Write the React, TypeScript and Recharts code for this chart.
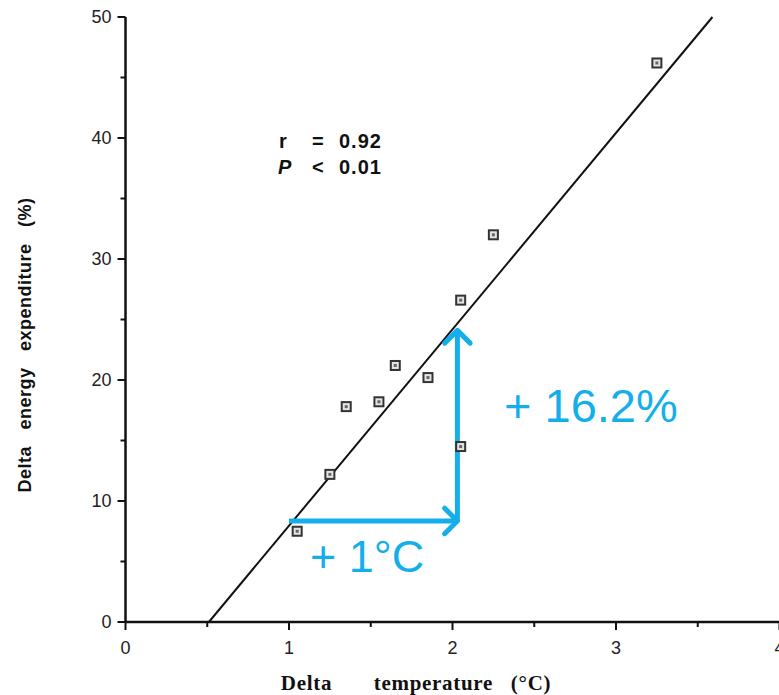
import { ReferenceLine, Scatter, ScatterChart, XAxis, YAxis } from "recharts";

const tempX = [1.05, 1.25, 1.35, 1.55, 1.65, 1.85, 2.05, 2.05, 2.25, 3.25];
const energyY = [7.5, 12.2, 17.8, 18.2, 21.2, 20.2, 26.6, 14.5, 32.0, 46.2];

// regression line end points
const fitX = [0.51, 3.59];
const fitY = [0, 50];

// blue arrows: +1 °C horizontally, +16.2 % vertically
const arrowX = [1.0, 2.03, 2.03];
const arrowY = [8.35, 8.35, 24.1];

const xTicks = [0, 0.5, 1, 1.5, 2, 2.5, 3, 3.5, 4];
const yTicks = [0, 5, 10, 15, 20, 25, 30, 35, 40, 45, 50];

const points = tempX.map((x, i) => ({ x, y: energyY[i] }));

const BLUE = "#14afea";
const SANS = "'Liberation Sans', Arial, sans-serif";

function XTick({ x, y, payload }: any) {
  const v = payload.value;
  const major = Number.isInteger(v);
  return (
    <g>
      <line x1={x} x2={x} y1={y} y2={y + (major ? 8 : 5)} stroke="#111" strokeWidth={2} />
      {major && (
        <text x={x} y={y + 26} textAnchor="middle" dominantBaseline="central" fontSize={18} fill="#222" fontFamily={SANS}>
          {v}
        </text>
      )}
    </g>
  );
}

function YTick({ x, y, payload }: any) {
  const v = payload.value;
  const major = v % 10 === 0;
  return (
    <g>
      <line x1={x - (major ? 8 : 5)} x2={x} y1={y} y2={y} stroke="#111" strokeWidth={2} />
      {major && (
        <text x={x - 14} y={y} textAnchor="end" dominantBaseline="central" fontSize={18} fill="#222" fontFamily={SANS}>
          {v}
        </text>
      )}
    </g>
  );
}

function Box({ cx, cy }: any) {
  return (
    <g>
      <rect x={cx - 4.5} y={cy - 4.5} width={9} height={9} fill="#e4e4e4" stroke="#333" strokeWidth={2} />
      <rect x={cx - 1.5} y={cy - 1.5} width={3} height={3} fill="#666" />
    </g>
  );
}

function Arrow(props: any) {
  const { x1, y1, x2, y2 } = props;
  const ang = Math.atan2(y2 - y1, x2 - x1);
  const len = 18;
  const a1 = ang + Math.PI - Math.PI / 4;
  const a2 = ang + Math.PI + Math.PI / 4;
  return (
    <g>
      <line x1={x1} y1={y1} x2={x2} y2={y2} stroke={BLUE} strokeWidth={5} />
      <polyline
        points={`${x2 + len * Math.cos(a1)},${y2 + len * Math.sin(a1)} ${x2},${y2} ${x2 + len * Math.cos(a2)},${y2 + len * Math.sin(a2)}`}
        fill="none"
        stroke={BLUE}
        strokeWidth={5}
        strokeLinecap="round"
        strokeLinejoin="round"
      />
    </g>
  );
}

const stat = { position: "absolute" as const, fontFamily: SANS, fontWeight: 700, fontSize: 20, color: "#111", lineHeight: "20px", letterSpacing: 1 };

export default function App() {
  return (
    <div style={{ position: "absolute", left: 0, top: 0, width: 779, height: 695, overflow: "hidden", background: "#fff" }}>
      <ScatterChart width={820} height={695} margin={{ top: 17, right: 40.5, left: 0, bottom: 33 }}>
        <XAxis
          type="number"
          dataKey="x"
          domain={[0, 4]}
          ticks={xTicks}
          tick={<XTick />}
          tickLine={false}
          tickSize={0}
          tickMargin={0}
          height={40}
          axisLine={{ stroke: "#111", strokeWidth: 2.5 }}
          allowDataOverflow
        />
        <YAxis
          type="number"
          dataKey="y"
          domain={[0, 50]}
          ticks={yTicks}
          tick={<YTick />}
          tickLine={false}
          tickSize={0}
          tickMargin={0}
          width={125.5}
          axisLine={{ stroke: "#111", strokeWidth: 2.5 }}
          allowDataOverflow
        />
        <ReferenceLine
          segment={[
            { x: fitX[0], y: fitY[0] },
            { x: fitX[1], y: fitY[1] },
          ]}
          stroke="#111"
          strokeWidth={2}
          ifOverflow="visible"
        />
        <ReferenceLine
          segment={[
            { x: arrowX[0], y: arrowY[0] },
            { x: arrowX[1], y: arrowY[1] },
          ]}
          shape={<Arrow />}
          ifOverflow="visible"
        />
        <ReferenceLine
          segment={[
            { x: arrowX[1], y: arrowY[1] },
            { x: arrowX[2], y: arrowY[2] },
          ]}
          shape={<Arrow />}
          ifOverflow="visible"
        />
        <Scatter data={points} shape={<Box />} isAnimationActive={false} />
      </ScatterChart>

      <div style={{ ...stat, left: 279, top: 131 }}>r</div>
      <div style={{ ...stat, left: 312, top: 131 }}>=</div>
      <div style={{ ...stat, left: 339, top: 131 }}>0.92</div>
      <div style={{ ...stat, left: 278, top: 157, fontStyle: "italic" }}>P</div>
      <div style={{ ...stat, left: 312, top: 157 }}>&lt;</div>
      <div style={{ ...stat, left: 339, top: 157 }}>0.01</div>

      <div style={{ position: "absolute", left: 310, top: 531, fontFamily: SANS, fontSize: 45, color: BLUE, whiteSpace: "pre" }}>
        + 1°C
      </div>
      <div style={{ position: "absolute", left: 504, top: 378, fontFamily: SANS, fontSize: 47, color: BLUE, whiteSpace: "pre" }}>
        + 16.2%
      </div>

      <div
        style={{
          position: "absolute",
          left: 25,
          top: 345,
          transform: "translate(-50%, -50%) rotate(-90deg)",
          fontFamily: SANS,
          fontWeight: 700,
          fontSize: 18,
          letterSpacing: 0.5,
          color: "#111",
          whiteSpace: "pre",
        }}
      >
        {"Delta   energy   expenditure   (%)"}
      </div>

      <div
        style={{
          position: "absolute",
          left: 416,
          top: 683,
          transform: "translate(-50%, -50%)",
          fontFamily: "'Liberation Serif', 'Times New Roman', serif",
          fontWeight: 700,
          fontSize: 21,
          letterSpacing: 0.7,
          color: "#111",
          whiteSpace: "pre",
        }}
      >
        {"Delta       temperature   (°C)"}
      </div>
    </div>
  );
}
